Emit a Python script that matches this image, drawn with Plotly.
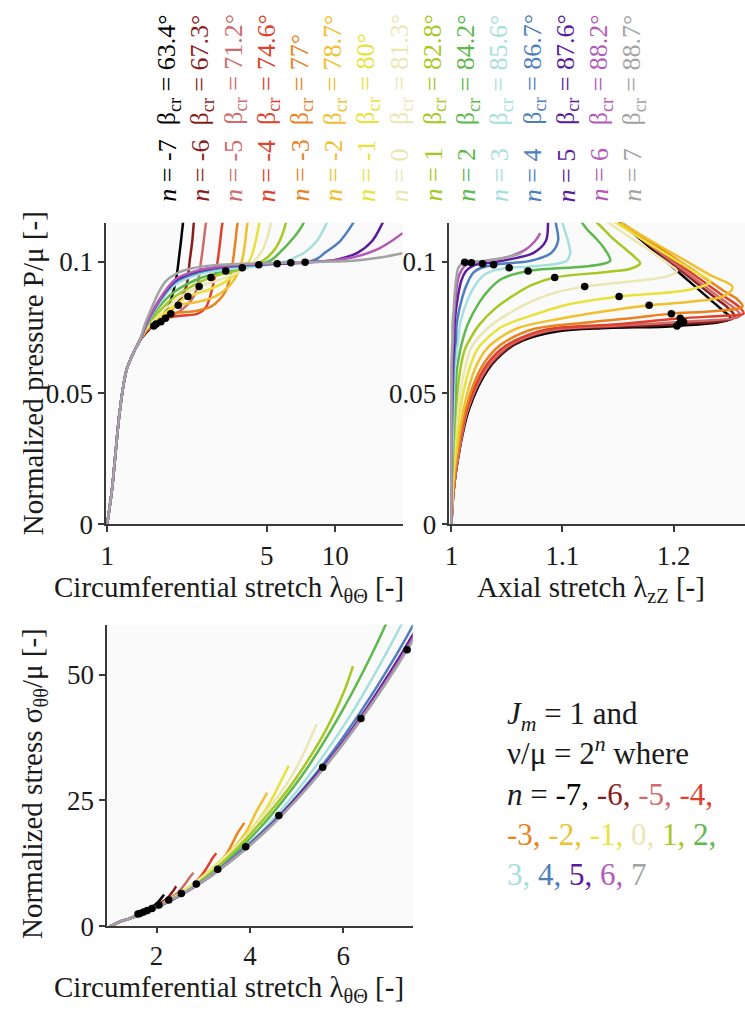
import plotly.graph_objects as go

# ---------------- data ----------------
N_VALUES = list(range(-7, 8))
COLORS = ["#000000", "#8b1c1c", "#cf6b6b", "#e0402a", "#e8831f", "#f0c02e", "#e9e23a",
          "#ebe6b2", "#a6c822", "#5db84d", "#a6e0de", "#4d7ec0", "#5b1b9c", "#b35ab8", "#a3a3a3"]
BETA_CR = ["63.4", "67.3", "71.2", "74.6", "77", "78.7", "80", "81.3", "82.8",
           "84.2", "85.6", "86.7", "87.6", "88.2", "88.7"]

# common initial rise (all n)
COMMON_P = [0.0, 0.0127, 0.0252, 0.044, 0.059, 0.0665, 0.070]
COMMON_LT = [1.0, 1.048, 1.083, 1.139, 1.218, 1.323, 1.39]
COMMON_SIG = [0.0, 0.14, 0.30, 0.58, 0.90, 1.20, 1.40]

# n = -7
LZ_LOW_M7 = [1.0, 1.002, 1.006, 1.016, 1.033, 1.05, 1.064]
P_M7 = [0.0735, 0.0748, 0.0756, 0.0785, 0.0816, 0.086, 0.0941, 0.104, 0.1142, 0.117]
LT_M7 = [1.50, 1.55, 1.60, 1.72, 1.82, 1.91, 2.01, 2.08, 2.145, 2.16]
LZ_M7 = [1.095, 1.14, 1.203, 1.251, 1.244, 1.232, 1.210, 1.183, 1.155, 1.148]
S_M7 = [1.81, 2.05, 2.33, 2.91, 3.36, 3.87, 4.60, 5.32, 6.07, 6.27]
# n = -6
LZ_LOW_M6 = [1.0, 1.002, 1.006, 1.015, 1.032, 1.049, 1.062]
P_M6 = [0.0738, 0.0752, 0.0763, 0.079, 0.0825, 0.0855, 0.0905, 0.1004, 0.108, 0.1154, 0.118]
LT_M6 = [1.50, 1.56, 1.64, 1.78, 1.95, 2.08, 2.22, 2.30, 2.36, 2.40, 2.42]
LZ_M6 = [1.09, 1.14, 1.205, 1.255, 1.249, 1.240, 1.225, 1.196, 1.173, 1.151, 1.144]
S_M6 = [1.81, 2.09, 2.47, 3.14, 3.92, 4.59, 5.46, 6.35, 7.06, 7.65, 7.91]
# n = -5
LZ_LOW_M5 = [1.0, 1.002, 1.006, 1.015, 1.031, 1.047, 1.060]
P_M5 = [0.074, 0.0758, 0.0772, 0.0795, 0.0816, 0.085, 0.0891, 0.1004, 0.108, 0.1148, 0.120]
LT_M5 = [1.50, 1.60, 1.72, 1.92, 2.11, 2.32, 2.455, 2.58, 2.65, 2.71, 2.79]
LZ_M5 = [1.09, 1.15, 1.209, 1.26, 1.257, 1.246, 1.233, 1.198, 1.174, 1.153, 1.137]
S_M5 = [1.82, 2.23, 2.76, 3.69, 4.57, 5.70, 6.62, 8.01, 8.90, 9.72, 10.62]
# n = -4
LZ_LOW_M4 = [1.0, 1.002, 1.005, 1.014, 1.029, 1.044, 1.057]
P_M4 = [0.0742, 0.0762, 0.0785, 0.0795, 0.0803, 0.0825, 0.0879, 0.094, 0.1004, 0.108, 0.1148, 0.118]
LT_M4 = [1.50, 1.62, 1.80, 2.10, 2.495, 2.70, 2.85, 2.96, 3.05, 3.13, 3.20, 3.28]
LZ_M4 = [1.085, 1.15, 1.206, 1.245, 1.263, 1.260, 1.242, 1.222, 1.201, 1.176, 1.153, 1.143]
S_M4 = [1.81, 2.30, 3.07, 4.37, 6.31, 7.58, 8.87, 10.06, 11.22, 12.44, 13.55, 14.51]
# n = -3
LZ_LOW_M3 = [1.0, 1.002, 1.005, 1.013, 1.026, 1.039, 1.050]
P_M3 = [0.0745, 0.0768, 0.0787, 0.0803, 0.0812, 0.0830, 0.0855, 0.0890, 0.094, 0.1004, 0.108, 0.1142, 0.1205]
LT_M3 = [1.50, 1.65, 1.78, 1.90, 2.40, 2.85, 3.10, 3.31, 3.45, 3.56, 3.65, 3.72, 3.88]
LZ_M3 = [1.075, 1.12, 1.165, 1.198, 1.235, 1.262, 1.258, 1.245, 1.228, 1.205, 1.178, 1.156, 1.133]
S_M3 = [1.80, 2.34, 2.91, 3.47, 5.78, 8.51, 10.34, 12.14, 13.74, 15.33, 16.95, 18.27, 20.55]
# n = -2
LZ_LOW_M2 = [1.0, 1.001, 1.004, 1.011, 1.021, 1.031, 1.040]
P_M2 = [0.0748, 0.0785, 0.081, 0.0835, 0.0848, 0.087, 0.0905, 0.095, 0.1004, 0.108, 0.1142, 0.125]
LT_M2 = [1.50, 1.70, 1.85, 2.05, 2.50, 3.00, 3.40, 3.70, 3.90, 4.03, 4.11, 4.37]
LZ_M2 = [1.06, 1.10, 1.135, 1.178, 1.215, 1.245, 1.253, 1.233, 1.211, 1.180, 1.155, 1.112]
S_M2 = [1.78, 2.50, 3.15, 4.13, 6.44, 9.75, 13.11, 16.04, 18.49, 20.70, 22.28, 26.55]
# n = -1
LZ_LOW_M1 = [1.0, 1.001, 1.003, 1.008, 1.016, 1.023, 1.030]
P_M1 = [0.0752, 0.080, 0.0838, 0.0868, 0.0895, 0.0925, 0.0965, 0.1004, 0.107, 0.1142, 0.122]
LT_M1 = [1.50, 1.75, 2.00, 2.26, 2.80, 3.30, 3.80, 4.20, 4.45, 4.63, 4.83]
LZ_M1 = [1.045, 1.075, 1.105, 1.151, 1.215, 1.233, 1.218, 1.203, 1.178, 1.151, 1.121]
S_M1 = [1.77, 2.63, 3.70, 5.10, 8.53, 12.42, 16.97, 21.31, 24.96, 28.18, 31.91]
# n = 0
LZ_LOW_0 = [1.0, 1.001, 1.002, 1.006, 1.012, 1.017, 1.022]
P_0 = [0.0756, 0.0812, 0.0855, 0.0885, 0.0906, 0.0932, 0.0947, 0.0965, 0.0985, 0.104, 0.1085, 0.1142, 0.122]
LT_0 = [1.50, 1.75, 2.00, 2.25, 2.53, 3.10, 3.45, 3.85, 4.20, 4.75, 5.00, 5.20, 5.43]
LZ_0 = [1.035, 1.055, 1.075, 1.095, 1.12, 1.175, 1.196, 1.203, 1.198, 1.180, 1.164, 1.144, 1.116]
S_0 = [1.76, 2.62, 3.68, 4.91, 6.50, 10.52, 13.48, 17.21, 21.01, 27.69, 31.57, 35.33, 40.15]
# n = 1
LZ_LOW_1 = [1.0, 1.0005, 1.0015, 1.004, 1.008, 1.012, 1.016]
P_1 = [0.076, 0.0825, 0.087, 0.0912, 0.0941, 0.0962, 0.0975, 0.0995, 0.1015, 0.1055, 0.1095, 0.1142, 0.120]
LT_1 = [1.50, 1.75, 2.00, 2.40, 2.85, 3.50, 3.95, 4.60, 5.00, 5.50, 5.80, 6.04, 6.21]
LZ_1 = [1.025, 1.04, 1.055, 1.072, 1.093, 1.14, 1.162, 1.170, 1.166, 1.155, 1.144, 1.133, 1.118]
S_1 = [1.75, 2.63, 3.67, 5.63, 8.35, 13.43, 17.67, 24.64, 29.59, 36.87, 42.14, 47.20, 51.74]
# n = 2
LZ_LOW_2 = [1.0, 1.0, 1.001, 1.003, 1.005, 1.008, 1.010]
P_2 = [0.0765, 0.0845, 0.089, 0.0935, 0.0966, 0.0982, 0.0992, 0.1005, 0.1055, 0.1095, 0.1125, 0.1148, 0.120]
LT_2 = [1.50, 1.75, 2.00, 2.50, 3.31, 4.20, 4.70, 5.20, 6.00, 6.60, 7.00, 7.25, 7.55]
LZ_2 = [1.015, 1.025, 1.033, 1.045, 1.069, 1.118, 1.136, 1.143, 1.137, 1.129, 1.122, 1.118, 1.109]
S_2 = [1.75, 2.65, 3.68, 6.11, 11.31, 19.37, 24.87, 31.06, 43.18, 53.85, 61.85, 67.46, 75.86]
# n = 3
LZ_LOW_3 = [1.0, 1.0, 1.0005, 1.002, 1.003, 1.005, 1.006]
P_3 = [0.0768, 0.086, 0.0915, 0.0952, 0.097, 0.0978, 0.0982, 0.0988, 0.0995, 0.1005, 0.102, 0.1035, 0.108, 0.1148, 0.119]
LT_3 = [1.50, 1.75, 2.00, 2.50, 3.20, 3.91, 4.40, 5.00, 5.60, 6.20, 6.75, 7.30, 8.30, 9.16, 9.60]
LZ_3 = [1.008, 1.015, 1.022, 1.03, 1.04, 1.052, 1.068, 1.085, 1.097, 1.104, 1.106, 1.107, 1.105, 1.10, 1.097]
S_3 = [1.74, 2.67, 3.74, 6.13, 10.33, 15.73, 20.30, 26.80, 34.23, 42.65, 51.40, 61.06, 82.21, 105.96, 120.31]
# n = 4
LZ_LOW_4 = [1.0, 1.0, 1.0, 1.001, 1.002, 1.003, 1.004]
P_4 = [0.077, 0.0868, 0.0925, 0.096, 0.0978, 0.0989, 0.0992, 0.0995, 0.0997, 0.1, 0.1012, 0.1035, 0.108, 0.1148, 0.119]
LT_4 = [1.50, 1.75, 2.00, 2.50, 3.20, 4.62, 5.30, 6.00, 6.70, 7.50, 8.30, 9.00, 10.50, 11.97, 12.80]
LZ_4 = [1.005, 1.01, 1.015, 1.02, 1.027, 1.038, 1.043, 1.05, 1.057, 1.065, 1.078, 1.09, 1.096, 1.094, 1.092]
S_4 = [1.74, 2.69, 3.76, 6.12, 10.29, 21.91, 29.06, 37.61, 47.31, 59.91, 75.15, 91.63, 130.50, 179.94, 212.91]
# n = 5
LZ_LOW_5 = [1.0, 1.0, 1.0, 1.0005, 1.001, 1.002, 1.0025]
P_5 = [0.0772, 0.0872, 0.093, 0.0965, 0.0982, 0.099, 0.0993, 0.0995, 0.0998, 0.1002, 0.1008, 0.1035, 0.108, 0.1148, 0.119]
LT_5 = [1.50, 1.75, 2.00, 2.50, 3.20, 4.20, 5.56, 6.50, 7.50, 8.50, 10.0, 12.5, 14.5, 16.1, 17.0]
LZ_5 = [1.003, 1.006, 1.009, 1.013, 1.018, 1.022, 1.028, 1.031, 1.035, 1.042, 1.05, 1.074, 1.085, 1.087, 1.087]
S_5 = [1.74, 2.69, 3.75, 6.11, 10.24, 17.85, 31.56, 43.34, 58.10, 75.43, 105.84, 173.69, 246.37, 323.46, 373.83]
# n = 6
LZ_LOW_6 = [1.0, 1.0, 1.0, 1.0, 1.0005, 1.001, 1.0015]
P_6 = [0.0774, 0.0875, 0.0935, 0.0968, 0.0984, 0.0992, 0.0995, 0.0997, 0.0999, 0.1003, 0.1018, 0.1045, 0.1078, 0.111]
LT_6 = [1.50, 1.75, 2.00, 2.50, 3.20, 4.50, 5.40, 6.38, 7.50, 9.00, 12.0, 15.0, 17.5, 19.7]
LZ_6 = [1.002, 1.004, 1.006, 1.009, 1.012, 1.015, 1.016, 1.018, 1.022, 1.03, 1.05, 1.066, 1.075, 1.08]
S_6 = [1.75, 2.69, 3.76, 6.10, 10.20, 20.39, 29.48, 41.31, 57.43, 83.68, 153.92, 250.64, 354.90, 465.24]
# n = 7
LZ_LOW_7 = [1.0, 1.0, 1.0, 1.0, 1.0, 1.0005, 1.001]
P_7 = [0.0762, 0.0815, 0.0879, 0.0925, 0.0955, 0.0975, 0.0988, 0.0991, 0.0994, 0.0996, 0.0998, 0.0999, 0.1001, 0.1005, 0.1018, 0.1033]
LT_7 = [1.463, 1.55, 1.671, 1.80, 2.00, 2.333, 2.946, 3.50, 4.40, 5.50, 6.40, 7.37, 9.00, 11.97, 16.0, 19.7]
LZ_7 = [1.001, 1.002, 1.003, 1.004, 1.005, 1.006, 1.008, 1.0085, 1.009, 1.010, 1.011, 1.012, 1.018, 1.03, 1.05, 1.063]
S_7 = [1.63, 1.96, 2.46, 3.01, 3.84, 5.34, 8.64, 12.24, 19.42, 30.43, 41.33, 54.91, 82.54, 148.32, 273.64, 426.15]

# critical points (black dots), n = -7 .. 7
LT_CR = [1.60, 1.64, 1.72, 1.80, 1.90, 2.05, 2.26, 2.53, 2.85, 3.31, 3.91, 4.62, 5.56, 6.38, 7.37]
P_CR = [0.0756, 0.0763, 0.0772, 0.0785, 0.0803, 0.0835, 0.0868, 0.0906, 0.0941, 0.0966, 0.0978, 0.0989, 0.0993, 0.0997, 0.0999]
LZ_CR = [1.203, 1.205, 1.209, 1.206, 1.198, 1.178, 1.151, 1.120, 1.093, 1.069, 1.052, 1.038, 1.028, 1.018, 1.012]
S_CR = [2.4, 2.5, 2.8, 3.1, 3.5, 4.2, 5.2, 6.5, 8.4, 11.3, 15.8, 22.0, 31.6, 41.3, 55.0]

CURVES = [
    (LZ_LOW_M7, P_M7, LT_M7, LZ_M7, S_M7),
    (LZ_LOW_M6, P_M6, LT_M6, LZ_M6, S_M6),
    (LZ_LOW_M5, P_M5, LT_M5, LZ_M5, S_M5),
    (LZ_LOW_M4, P_M4, LT_M4, LZ_M4, S_M4),
    (LZ_LOW_M3, P_M3, LT_M3, LZ_M3, S_M3),
    (LZ_LOW_M2, P_M2, LT_M2, LZ_M2, S_M2),
    (LZ_LOW_M1, P_M1, LT_M1, LZ_M1, S_M1),
    (LZ_LOW_0, P_0, LT_0, LZ_0, S_0),
    (LZ_LOW_1, P_1, LT_1, LZ_1, S_1),
    (LZ_LOW_2, P_2, LT_2, LZ_2, S_2),
    (LZ_LOW_3, P_3, LT_3, LZ_3, S_3),
    (LZ_LOW_4, P_4, LT_4, LZ_4, S_4),
    (LZ_LOW_5, P_5, LT_5, LZ_5, S_5),
    (LZ_LOW_6, P_6, LT_6, LZ_6, S_6),
    (LZ_LOW_7, P_7, LT_7, LZ_7, S_7),
]

# ---------------- figure ----------------
W, H = 745, 1014
FONT = "Liberation Serif"
TXT = "#1a1a1a"


def fx(px):
    return px / W


def fy(py):
    return 1 - py / H


fig = go.Figure()
LW = 2.5
SM = 1.0
for (lzl, p, lt, lz, s), col in zip(CURVES, COLORS):
    yp = COMMON_P + p
    fig.add_trace(go.Scatter(x=COMMON_LT + lt, y=yp, mode="lines", xaxis="x", yaxis="y",
                             line=dict(color=col, width=LW, shape="spline", smoothing=SM),
                             showlegend=False, hoverinfo="skip"))
    fig.add_trace(go.Scatter(x=lzl + lz, y=yp, mode="lines", xaxis="x2", yaxis="y2",
                             line=dict(color=col, width=LW, shape="spline", smoothing=SM),
                             showlegend=False, hoverinfo="skip"))
    fig.add_trace(go.Scatter(x=COMMON_LT + lt, y=COMMON_SIG + s, mode="lines", xaxis="x3", yaxis="y3",
                             line=dict(color=col, width=LW, shape="spline", smoothing=SM),
                             showlegend=False, hoverinfo="skip"))

DOT = dict(color="#000000", size=7.5)
fig.add_trace(go.Scatter(x=LT_CR, y=P_CR, mode="markers", marker=DOT, xaxis="x", yaxis="y",
                         showlegend=False, hoverinfo="skip"))
fig.add_trace(go.Scatter(x=LZ_CR, y=P_CR, mode="markers", marker=DOT, xaxis="x2", yaxis="y2",
                         showlegend=False, hoverinfo="skip"))
fig.add_trace(go.Scatter(x=LT_CR, y=S_CR, mode="markers", marker=DOT, xaxis="x3", yaxis="y3",
                         showlegend=False, hoverinfo="skip"))

AX = dict(showline=True, linecolor="#3a3a3a", linewidth=1.5, ticks="outside", ticklen=6,
          tickwidth=1.5, tickcolor="#3a3a3a", showgrid=False, zeroline=False,
          tickfont=dict(family=FONT, size=27, color=TXT), mirror=False)
XAX = dict(AX, ticklabelstandoff=1)
YAX = dict(AX, ticklabelstandoff=0)

top_dom = [fy(532), fy(226)]
fig.update_layout(
    width=W, height=H, margin=dict(l=0, r=0, t=0, b=0),
    font=dict(family=FONT, color=TXT),
    paper_bgcolor="#ffffff", plot_bgcolor="#fafafa",
    xaxis=dict(XAX, domain=[fx(101), fx(400)], type="log", range=[-0.0043, 1.2957],
               tickmode="array", tickvals=[1, 5, 10], ticktext=["1", "5", "10"], anchor="y"),
    yaxis=dict(YAX, domain=top_dom, range=[0, 0.115], tickmode="array",
               tickvals=[0, 0.05, 0.1], ticktext=["0", "0.05", "0.1"], anchor="x"),
    xaxis2=dict(XAX, domain=[fx(447), 1.0], range=[0.9982, 1.2643], tickmode="array",
                tickvals=[1, 1.1, 1.2], ticktext=["1", "1.1", "1.2"], anchor="y2"),
    yaxis2=dict(YAX, domain=top_dom, range=[0, 0.115], tickmode="array",
                tickvals=[0, 0.05, 0.1], ticktext=["0", "0.05", "0.1"], anchor="x2"),
    xaxis3=dict(XAX, domain=[fx(102), fx(410)], range=[0.94, 7.49], tickmode="array",
                tickvals=[2, 4, 6], ticktext=["2", "4", "6"], anchor="y3",
                ticklabelstandoff=0, ticklen=5),
    yaxis3=dict(YAX, domain=[fy(940), fy(634)], range=[0, 60], tickmode="array",
                tickvals=[0, 25, 50], ticktext=["0", "25", "50"], anchor="x3"),
)

ann = []
TF = dict(family=FONT, size=29, color=TXT)
ann.append(dict(text="Normalized pressure P/μ [-]", x=fx(28), y=fy(379), textangle=-90,
                xref="paper", yref="paper", showarrow=False, font=TF, xanchor="center", yanchor="middle"))
ann.append(dict(text="Circumferential stretch λ<sub>θΘ</sub> [-]", x=fx(225), y=fy(598),
                xref="paper", yref="paper", showarrow=False, font=TF, xanchor="center", yanchor="middle"))
ann.append(dict(text="Axial stretch λ<sub>zZ</sub> [-]", x=fx(590), y=fy(598),
                xref="paper", yref="paper", showarrow=False, font=TF, xanchor="center", yanchor="middle"))
ann.append(dict(text="Normalized stress σ<sub>θθ</sub>/μ [-]", x=fx(28), y=fy(795), textangle=-90,
                xref="paper", yref="paper", showarrow=False, font=TF, xanchor="center", yanchor="middle"))
ann.append(dict(text="Circumferential stretch λ<sub>θΘ</sub> [-]", x=fx(225), y=fy(1004),
                xref="paper", yref="paper", showarrow=False, font=TF, xanchor="center", yanchor="middle"))

# rotated legend columns
for i, (n, col, b) in enumerate(zip(N_VALUES, COLORS, BETA_CR)):
    xc = 163 + 33.5 * i
    ann.append(dict(text=f"<i>n</i> = {n}", x=fx(xc), y=fy(207), textangle=-90,
                    xref="paper", yref="paper", showarrow=False, xanchor="center", yanchor="bottom",
                    font=dict(family=FONT, size=26, color=col)))
    ann.append(dict(text=f"β<sub>cr</sub> = {b}°", x=fx(xc), y=fy(129), textangle=-90,
                    xref="paper", yref="paper", showarrow=False, xanchor="center", yanchor="bottom",
                    font=dict(family=FONT, size=26, color=col)))

# bottom-right explanatory text
parts = []
for n, col in zip(N_VALUES, COLORS):
    sep = "," if n != 7 else ""
    parts.append(f"<span style='color:{col}'>{n}{sep}</span>")
line3 = "<i>n</i> = " + " ".join(parts[0:4])
line4 = " ".join(parts[4:10])
line5 = " ".join(parts[10:15])
txt = ("<i>J</i><sub><i>m</i></sub> = 1 and<br>ν/μ = 2<sup><i>n</i></sup> where<br>"
       + line3 + "<br>" + line4 + "<br>" + line5)
ann.append(dict(text=txt, x=fx(503), y=fy(704), xref="paper", yref="paper", showarrow=False,
                xanchor="left", yanchor="top", align="left",
                font=dict(family=FONT, size=31, color=TXT)))

fig.update_layout(annotations=ann)
fig.write_html("out.html")
